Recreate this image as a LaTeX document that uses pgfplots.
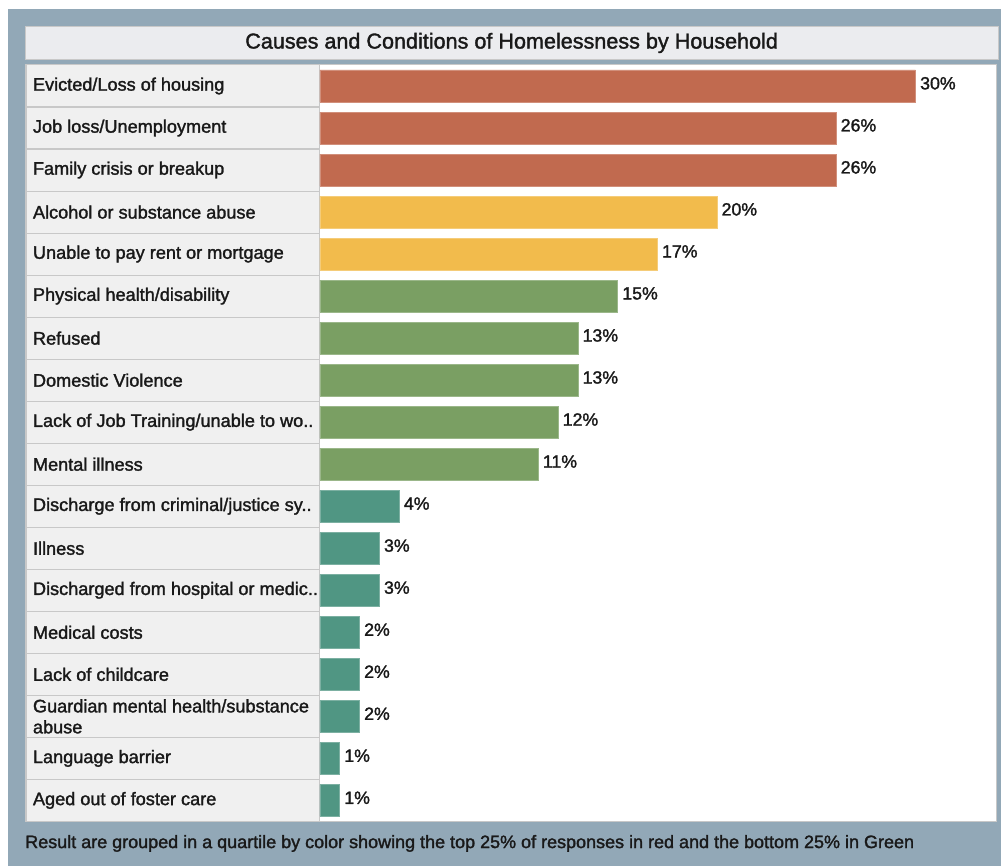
\documentclass[border=0pt]{standalone}
\usepackage{pgfplots}
\usepackage{pgfplotstable}
\pgfplotsset{compat=1.18}
\usepackage{fontspec}
\setmainfont{Liberation Sans}
\newfontfamily\medfont{Liberation Sans}[FakeBold=1.6]
\definecolor{cred}{RGB}{193,106,79}
\definecolor{cyel}{RGB}{242,187,76}
\definecolor{colive}{RGB}{122,159,99}
\definecolor{cteal}{RGB}{80,150,131}
\definecolor{frame}{RGB}{146,168,183}
\definecolor{cell}{RGB}{240,240,240}
\definecolor{cellline}{RGB}{200,200,200}
\definecolor{titlebar}{RGB}{235,236,239}
\definecolor{txt}{RGB}{25,25,25}

\pgfplotstableread{
y v
1 30
2 26
3 26
}\redt
\pgfplotstableread{
y v
4 20
5 17
}\yelt
\pgfplotstableread{
y v
6 15
7 13
8 13
9 12
10 11
}\olivet
\pgfplotstableread{
y v
11 4
12 3
13 3
14 2
15 2
16 2
17 1
18 1
}\tealt

\begin{document}
\begin{tikzpicture}
\begin{scope}[x=0.75pt,y=-0.75pt]
\path[use as bounding box, fill=white] (0,0) rectangle (1002,867);
\fill[frame] (8,9) rectangle (1002,867);
\filldraw[fill=titlebar, draw=cellline, line width=0.6pt] (25,26) rectangle (999,59);
\node[font=\medfont\fontsize{16.2}{18}\selectfont, text=txt] at (512,43) {Causes and Conditions of Homelessness by Household};
\filldraw[fill=white, draw=cellline, line width=0.8pt] (26,65) rectangle (997,822);
\foreach \i in {0,...,17} {
  \filldraw[fill=cell, draw=cellline, line width=0.8pt] (26,{65+42.06*\i}) rectangle (320,{65+42.06*(\i+1)});
}
\node[anchor=west, font=\medfont\fontsize{13.5}{15}\selectfont, text=txt, inner sep=0pt] at (25,844) {Result are grouped in a quartile by color showing the top 25\% of responses in red and the bottom 25\% in Green};
\end{scope}
\begin{axis}[
  at={(240pt,-48.75pt)}, anchor=north west,
  scale only axis, width=507.75pt, height=567.75pt,
  xmin=0, xmax=34.07, ymin=0.5, ymax=18.5, y dir=reverse,
  xbar, bar width=24pt, bar shift=0pt,
  axis line style={draw=none}, tick style={draw=none},
  xtick=\empty,
  ytick={1,...,18},
  yticklabels={Evicted/Loss of housing, Job loss/Unemployment, Family crisis or breakup, Alcohol or substance abuse, Unable to pay rent or mortgage, Physical health/disability, Refused, Domestic Violence, Lack of Job Training/unable to wo.., Mental illness, Discharge from criminal/justice sy.., Illness, Discharged from hospital or medic.., Medical costs, Lack of childcare, {Guardian mental health/substance\\abuse}, Language barrier, Aged out of foster care},
  yticklabel style={anchor=west, xshift=-214.5pt, align=left, font=\medfont\fontsize{13.6}{15.75}\selectfont, text=txt},
  /pgf/number format/assume math mode=true,
  nodes near coords={\pgfmathprintnumber{\pgfplotspointmeta}\%},
  nodes near coords style={anchor=west, font=\medfont\fontsize{13.3}{15}\selectfont, text=txt, xshift=0pt, yshift=2pt},
  point meta=explicit,
  clip=false,
]
\addplot[fill=cred, draw=cred!75!white] table[x=v, y=y, meta=v] {\redt};
\addplot[fill=cyel, draw=cyel!75!white] table[x=v, y=y, meta=v] {\yelt};
\addplot[fill=colive, draw=colive!75!white] table[x=v, y=y, meta=v] {\olivet};
\addplot[fill=cteal, draw=cteal!75!white] table[x=v, y=y, meta=v] {\tealt};
\end{axis}
\end{tikzpicture}
\end{document}
